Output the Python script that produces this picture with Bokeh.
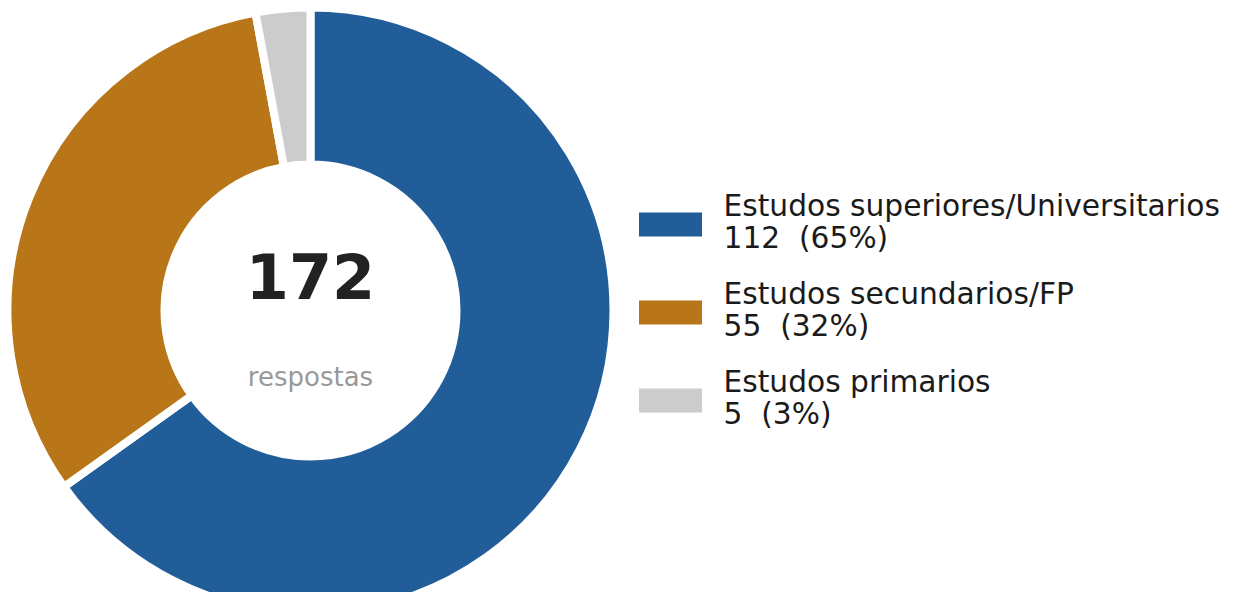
import math
from bokeh.plotting import figure
from bokeh.models import ColumnDataSource, Range1d
from bokeh.core.properties import value
from bokeh.embed import file_html
from bokeh.resources import INLINE

categories = ["Estudos superiores/Universitarios", "Estudos secundarios/FP", "Estudos primarios"]
counts = [112, 55, 5]
colors = ["#215d99", "#b87618", "#cccccc"]
center_label = "respostas"

total = sum(counts)
W, H = 1227, 592
FONT = "DejaVu Sans"

p = figure(width=W, height=H, output_backend="svg", toolbar_location=None,
           x_range=Range1d(0, W), y_range=Range1d(0, H),
           x_axis_type=None, y_axis_type=None, min_border=0)
p.outline_line_color = None
p.grid.visible = False
p.background_fill_color = "white"
p.border_fill_color = "white"

cx, cy = 310, H - 310
starts, ends = [], []
cum = 0
for c in counts:
    starts.append(math.pi / 2 - 2 * math.pi * cum / total)
    cum += c
    ends.append(math.pi / 2 - 2 * math.pi * cum / total)

src = ColumnDataSource(dict(x=[cx] * len(counts), y=[cy] * len(counts),
                            start=starts, end=ends, color=colors))
p.annular_wedge(x="x", y="y", inner_radius=146, outer_radius=303,
                start_angle="start", end_angle="end", direction="clock",
                fill_color="color", line_color="white", line_width=8, source=src)

# center text
p.text(x=[cx], y=[H - 275], text=[str(total)], text_align="center", text_baseline="alphabetic",
       text_font=value(FONT), text_font_style="bold", text_font_size="62px", text_color="#222222")
p.text(x=[cx], y=[H - 376], text=[center_label], text_align="center", text_baseline="alphabetic",
       text_font=value(FONT), text_font_size="26px", text_color="#999999")

# legend
ys = [H - 224 - i * 88 for i in range(len(categories))]
lsrc = ColumnDataSource(dict(
    x=[670] * len(categories), y=ys, color=colors,
    tx=[723] * len(categories),
    t1y=[y + 19 for y in ys], t2y=[y - 13 for y in ys],
    name=categories,
    val=[f"{c}\u00a0 ({round(100 * c / total)}%)" for c in counts]))
p.rect(x="x", y="y", width=63, height=24, fill_color="color", line_color=None, source=lsrc)
p.text(x="tx", y="t1y", text="name", text_align="left", text_baseline="alphabetic",
       text_font=value(FONT), text_font_size="29.7px", text_color="#1a1a1a", source=lsrc)
p.text(x="tx", y="t2y", text="val", text_align="left", text_baseline="alphabetic",
       text_font=value(FONT), text_font_size="29.7px", text_color="#1a1a1a", source=lsrc)

open("out.html", "w").write(file_html(p, INLINE))
